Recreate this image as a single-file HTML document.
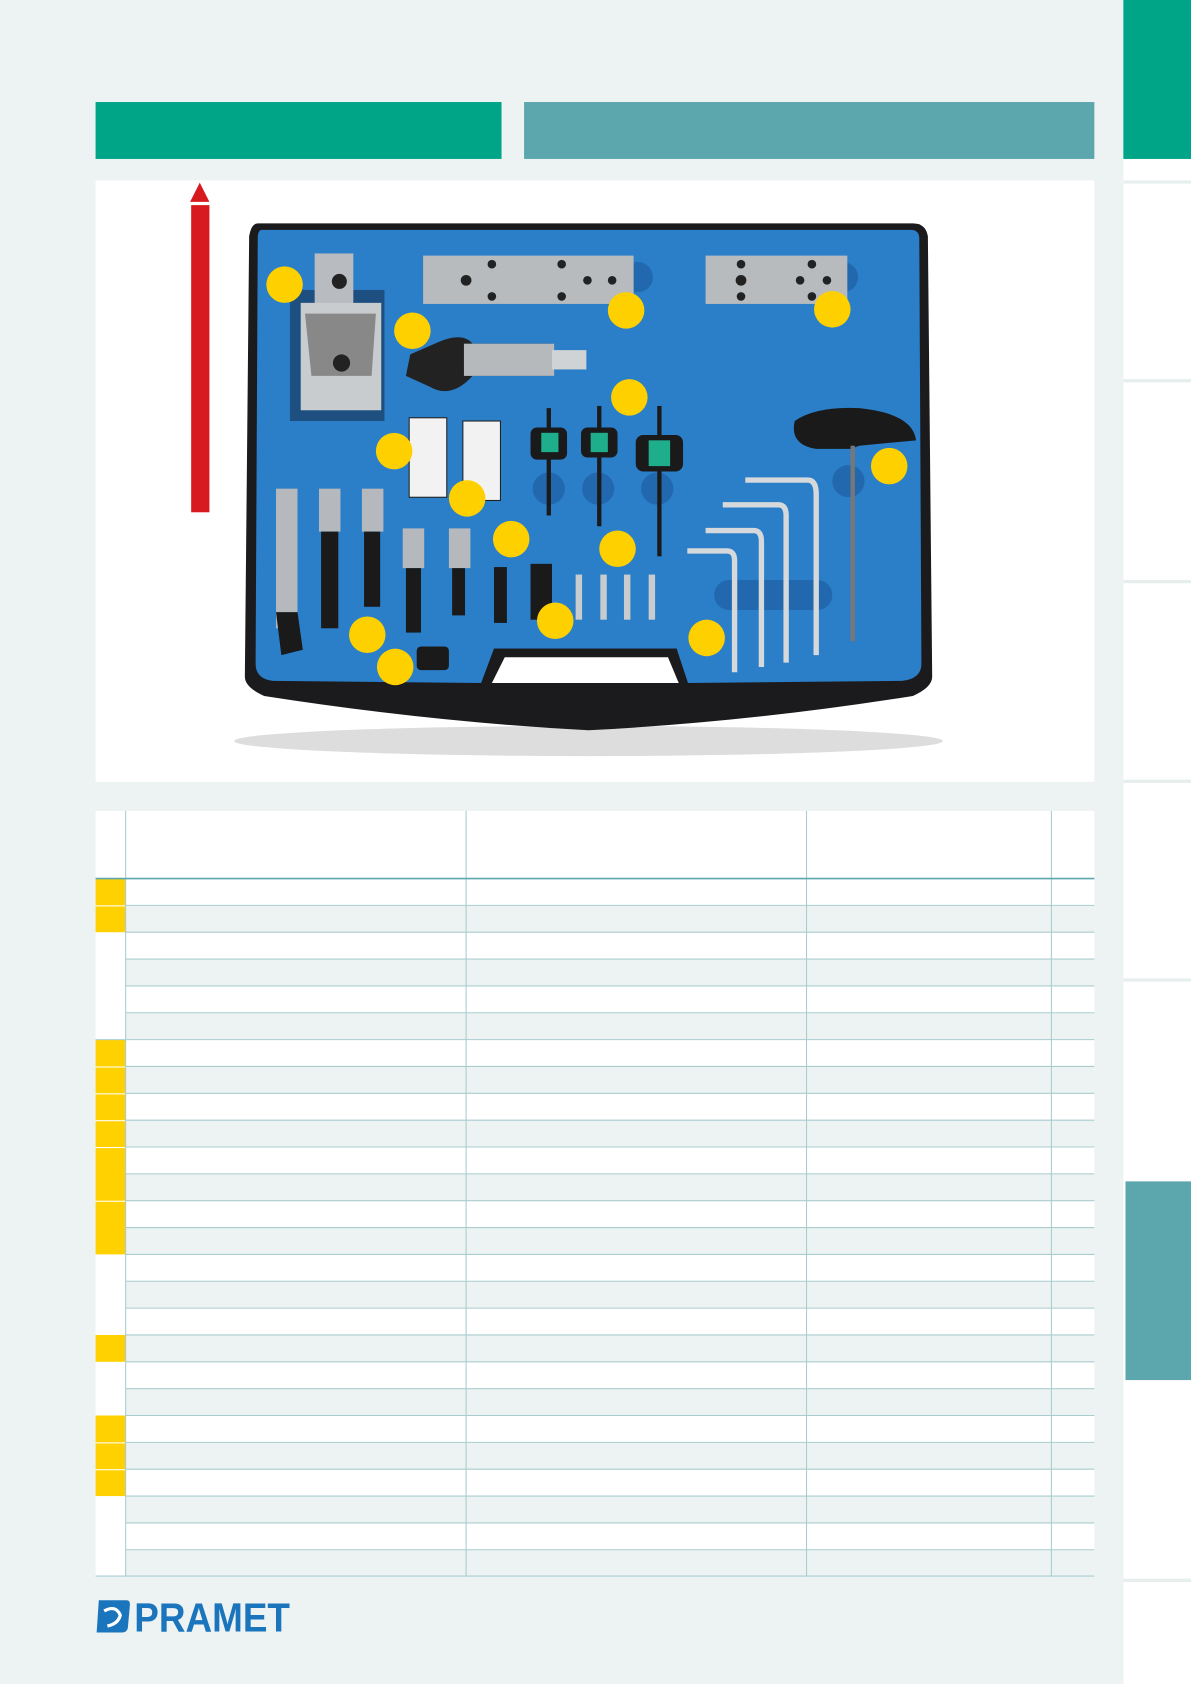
<!DOCTYPE html>
<html><head><meta charset="utf-8"><style>html,body{margin:0;padding:0;background:#edf3f3}svg{display:block}</style></head><body>
<svg width="1191" height="1684" viewBox="0 0 1109 1568" xmlns="http://www.w3.org/2000/svg" preserveAspectRatio="none">
<rect width="1109" height="1568" fill="#edf3f3"/>
<!-- sidebar -->
<rect x="1046" y="0" width="63" height="1568" fill="#fff"/>
<rect x="1046" y="0" width="63" height="148" fill="#00a487"/>
<g fill="#e6eeee"><rect x="1046" y="168" width="63" height="3"/><rect x="1046" y="353" width="63" height="3"/><rect x="1046" y="540" width="63" height="3"/><rect x="1046" y="726" width="63" height="3"/><rect x="1046" y="911" width="63" height="3"/><rect x="1046" y="1470" width="63" height="3"/></g>
<rect x="1048" y="1100" width="61" height="185" fill="#5ca7ae"/>
<!-- banners -->
<rect x="89" y="95" width="378" height="53" fill="#00a487"/>
<rect x="488" y="95" width="531" height="53" fill="#5ca7ae"/>
<!-- photo panel -->
<rect x="89" y="168" width="930" height="560" fill="#fff"/>
<rect x="178" y="191" width="17" height="286" fill="#d71920"/>
<polygon points="186,170 177,188 195,188" fill="#d71920"/>
<!-- case -->
<ellipse cx="548" cy="690" rx="330" ry="14" fill="#ddd"/>
<path d="M240,208 L850,208 Q862,208 864,220 L868,630 Q868,640 850,648 Q700,672 548,680 Q400,672 246,648 Q228,640 228,630 L232,220 Q234,208 240,208 Z" fill="#1b1b1d"/>
<path d="M244,214 L848,214 Q856,214 856,222 L858,618 Q858,632 840,634 L640,636 L630,604 L460,604 L448,636 L254,634 Q238,632 238,618 L240,222 Q240,214 244,214 Z" fill="#2b7ec8"/>
<path d="M460,604 L630,604 L642,640 L448,640 Z" fill="#1b1b1d"/>
<path d="M470,612 L622,612 L632,636 L458,636 Z" fill="#fff"/>
<!-- foam slots -->
<g fill="#2268ae"><circle cx="594" cy="258" r="14"/><circle cx="785" cy="258" r="14"/><rect x="665" y="540" width="110" height="28" rx="14"/><circle cx="511" cy="455" r="15"/><circle cx="557" cy="455" r="15"/><circle cx="612" cy="455" r="15"/><circle cx="790" cy="448" r="15"/></g>
<!-- top holder -->
<rect x="270" y="270" width="88" height="122" fill="#1d4f80"/>
<rect x="293" y="236" width="36" height="50" fill="#b8bcc0"/>
<circle cx="316" cy="262" r="7" fill="#222"/>
<rect x="280" y="282" width="75" height="100" fill="#c8cccf"/>
<path d="M284,292 L350,292 L346,350 L290,350 Z" fill="#888"/>
<circle cx="318" cy="338" r="8" fill="#222"/>
<!-- plates -->
<rect x="394" y="238" width="196" height="45" fill="#b7bbbe"/>
<rect x="657" y="238" width="132" height="45" fill="#b7bbbe"/>
<g fill="#222"><circle cx="458" cy="246" r="4"/><circle cx="523" cy="246" r="4"/><circle cx="434" cy="261" r="5"/><circle cx="547" cy="261" r="4"/><circle cx="570" cy="261" r="4"/><circle cx="458" cy="276" r="4"/><circle cx="523" cy="276" r="4"/><circle cx="690" cy="246" r="4"/><circle cx="756" cy="246" r="4"/><circle cx="690" cy="261" r="5"/><circle cx="745" cy="261" r="4"/><circle cx="770" cy="261" r="4"/><circle cx="690" cy="276" r="4"/><circle cx="756" cy="276" r="4"/></g>
<!-- boring head -->
<path d="M405,320 Q430,308 440,320 L515,320 L515,350 L440,350 Q420,372 400,360 L378,350 L382,330 Z" fill="#222"/>
<rect x="432" y="320" width="84" height="30" fill="#b5b9bc"/>
<rect x="514" y="326" width="32" height="18" fill="#d0d3d5"/>
<!-- inserts -->
<rect x="381" y="389" width="35" height="74" fill="#f2f2f2" stroke="#222"/>
<rect x="431" y="392" width="35" height="74" fill="#f2f2f2" stroke="#222"/>
<!-- keys -->
<g fill="#1a1a1a"><rect x="509" y="380" width="4" height="100"/><rect x="556" y="378" width="4" height="112"/><rect x="612" y="378" width="4" height="140"/>
<rect x="494" y="398" width="34" height="30" rx="6"/><rect x="541" y="398" width="34" height="28" rx="6"/><rect x="592" y="405" width="44" height="34" rx="7"/></g>
<g fill="#1fae8c"><rect x="504" y="403" width="16" height="18"/><rect x="550" y="403" width="16" height="18"/><rect x="604" y="410" width="20" height="24"/></g>
<path d="M740,392 Q760,378 800,380 Q850,385 853,410 L800,415 L792,418 L760,418 Q735,414 740,392 Z" fill="#1a1a1a"/>
<rect x="792" y="415" width="4" height="182" fill="#777"/>
<!-- L keys -->
<g fill="none" stroke="#d6d9db" stroke-width="5"><path d="M694,447 L752,447 Q760,447 760,460 L760,610"/><path d="M673,470 L725,470 Q732,470 732,480 L732,617"/><path d="M657,494 L702,494 Q709,494 709,504 L709,621"/><path d="M640,513 L677,513 Q684,513 684,522 L684,626"/></g>
<!-- bars -->
<g fill="#b5b9bd"><rect x="257" y="455" width="20" height="130"/><rect x="297" y="455" width="20" height="40"/><rect x="337" y="455" width="20" height="40"/><rect x="375" y="492" width="20" height="37"/><rect x="418" y="492" width="20" height="37"/></g>
<g fill="#1a1a1a"><path d="M257,570 L277,570 L282,605 L262,610 Z"/><rect x="299" y="495" width="16" height="90"/><rect x="339" y="495" width="15" height="70"/><rect x="378" y="529" width="14" height="60"/><rect x="421" y="529" width="12" height="44"/><rect x="460" y="528" width="12" height="52"/><rect x="494" y="525" width="20" height="52"/><rect x="388" y="602" width="30" height="22" rx="4"/></g>
<g fill="#c9ccce"><rect x="536" y="535" width="6" height="42"/><rect x="559" y="535" width="6" height="42"/><rect x="581" y="535" width="6" height="42"/><rect x="604" y="535" width="6" height="42"/></g>
<!-- callouts -->
<g fill="#ffd000"><circle cx="265" cy="265" r="17"/><circle cx="384" cy="308" r="17"/><circle cx="583" cy="289" r="17"/><circle cx="775" cy="288" r="17"/><circle cx="586" cy="370" r="17"/><circle cx="367" cy="420" r="17"/><circle cx="828" cy="434" r="17"/><circle cx="435" cy="464" r="17"/><circle cx="476" cy="502" r="17"/><circle cx="575" cy="511" r="17"/><circle cx="342" cy="591" r="17"/><circle cx="517" cy="578" r="17"/><circle cx="658" cy="594" r="17"/><circle cx="368" cy="621" r="17"/></g>
<!-- table -->
<rect x="89" y="755" width="930" height="713" fill="#fff"/>
<g fill="#edf3f3">
<rect x="117" y="843" width="902" height="25"/><rect x="117" y="893" width="902" height="25"/><rect x="117" y="943" width="902" height="25"/><rect x="117" y="993" width="902" height="25"/><rect x="117" y="1043" width="902" height="25"/><rect x="117" y="1093" width="902" height="25"/><rect x="117" y="1143" width="902" height="25"/><rect x="117" y="1193" width="902" height="25"/><rect x="117" y="1243" width="902" height="25"/><rect x="117" y="1293" width="902" height="25"/><rect x="117" y="1343" width="902" height="25"/><rect x="117" y="1393" width="902" height="25"/><rect x="117" y="1443" width="902" height="25"/></g>
<g fill="#ffd100">
<rect x="89" y="818" width="28" height="25"/><rect x="89" y="844" width="28" height="24"/>
<rect x="89" y="968" width="28" height="25"/><rect x="89" y="994" width="28" height="24"/><rect x="89" y="1019" width="28" height="24"/><rect x="89" y="1044" width="28" height="24"/>
<rect x="89" y="1069" width="28" height="49"/><rect x="89" y="1119" width="28" height="49"/>
<rect x="89" y="1243" width="28" height="25"/>
<rect x="89" y="1318" width="28" height="25"/><rect x="89" y="1344" width="28" height="24"/><rect x="89" y="1369" width="28" height="24"/></g>
<g stroke="#a9cdcf" stroke-width="1">
<line x1="117" y1="843" x2="1019" y2="843"/><line x1="117" y1="868" x2="1019" y2="868"/><line x1="117" y1="893" x2="1019" y2="893"/><line x1="117" y1="918" x2="1019" y2="918"/><line x1="117" y1="943" x2="1019" y2="943"/><line x1="89" y1="968" x2="1019" y2="968"/><line x1="117" y1="993" x2="1019" y2="993"/><line x1="117" y1="1018" x2="1019" y2="1018"/><line x1="117" y1="1043" x2="1019" y2="1043"/><line x1="117" y1="1068" x2="1019" y2="1068"/><line x1="117" y1="1093" x2="1019" y2="1093"/><line x1="117" y1="1118" x2="1019" y2="1118"/><line x1="117" y1="1143" x2="1019" y2="1143"/><line x1="117" y1="1168" x2="1019" y2="1168"/><line x1="117" y1="1193" x2="1019" y2="1193"/><line x1="117" y1="1218" x2="1019" y2="1218"/><line x1="117" y1="1243" x2="1019" y2="1243"/><line x1="117" y1="1268" x2="1019" y2="1268"/><line x1="117" y1="1293" x2="1019" y2="1293"/><line x1="117" y1="1318" x2="1019" y2="1318"/><line x1="117" y1="1343" x2="1019" y2="1343"/><line x1="117" y1="1368" x2="1019" y2="1368"/><line x1="117" y1="1393" x2="1019" y2="1393"/><line x1="117" y1="1418" x2="1019" y2="1418"/><line x1="117" y1="1443" x2="1019" y2="1443"/><line x1="89" y1="1467.5" x2="1019" y2="1467.5"/>
<line x1="117" y1="755" x2="117" y2="1468"/><line x1="434" y1="755" x2="434" y2="1468"/><line x1="751" y1="755" x2="751" y2="1468"/><line x1="979" y1="755" x2="979" y2="1468"/></g>
<line x1="89" y1="818" x2="1019" y2="818" stroke="#5ca7ae" stroke-width="1.5"/>
<!-- logo -->
<path d="M92,1490 L118,1490 Q121,1490 121,1494 L119,1516 Q118,1520 114,1520 L90,1520 Z" fill="#1b75bc"/>
<path d="M97,1500 Q108,1494 112,1504 Q110,1512 100,1514" fill="none" stroke="#fff" stroke-width="3"/>
<text x="125" y="1519" font-family="Liberation Sans, sans-serif" font-weight="bold" font-size="38" fill="#1b75bc" textLength="145" lengthAdjust="spacingAndGlyphs">PRAMET</text>
</svg>
</body></html>
